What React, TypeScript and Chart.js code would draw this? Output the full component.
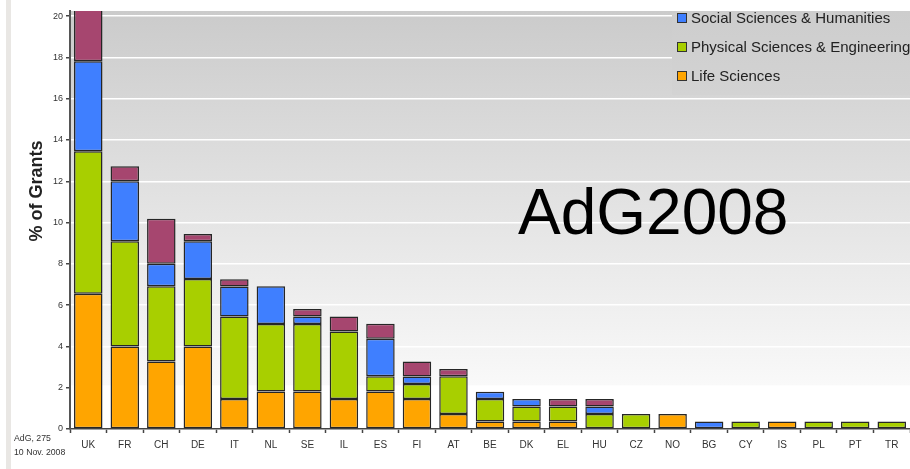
import React, { useEffect, useRef } from "react";
import { Chart, registerables } from "chart.js";

Chart.register(...registerables);

const countries = ["UK", "FR", "CH", "DE", "IT", "NL", "SE", "IL", "ES", "FI", "AT", "BE", "DK", "EL", "HU", "CZ", "NO", "BG", "CY", "IS", "PL", "PT", "TR"];
const lifeSciences = [6.55, 4.0, 3.27, 4.0, 1.45, 1.82, 1.82, 1.45, 1.82, 1.45, 0.73, 0.36, 0.36, 0.36, 0, 0, 0.73, 0, 0, 0.36, 0, 0, 0];
const physicalSciences = [6.91, 5.09, 3.64, 3.27, 4.0, 3.27, 3.27, 3.27, 0.73, 0.73, 1.82, 1.09, 0.73, 0.73, 0.73, 0.73, 0, 0, 0.36, 0, 0.36, 0.36, 0.36];
const socialSciences = [4.36, 2.91, 1.09, 1.82, 1.45, 1.82, 0.36, 0, 1.82, 0.36, 0, 0.36, 0.36, 0, 0.36, 0, 0, 0.36, 0, 0, 0, 0, 0];
const interdisciplinary = [2.91, 0.73, 2.18, 0.36, 0.36, 0, 0.36, 0.73, 0.73, 0.73, 0.36, 0, 0, 0.36, 0.36, 0, 0, 0, 0, 0, 0, 0, 0];
const yTicks = [0, 2, 4, 6, 8, 10, 12, 14, 16, 18, 20];

const FONT = "'Liberation Sans', Arial, sans-serif";

const decorPlugin = {
  id: "decor",
  beforeDraw(chart: any) {
    const { ctx, chartArea } = chart;
    const { left, right, top, bottom } = chartArea;
    const yScale = chart.scales.y;
    const gEnd = yScale.getPixelForValue(2.1);
    const grad = ctx.createLinearGradient(0, top, 0, gEnd);
    grad.addColorStop(0, "#cbcbcb");
    grad.addColorStop(0.5, "#e2e2e2");
    grad.addColorStop(1, "#f9f9f9");
    ctx.save();
    ctx.fillStyle = grad;
    ctx.fillRect(left, top, right - left, gEnd - top);
    ctx.fillStyle = "#ffffff";
    ctx.fillRect(left, gEnd, right - left, bottom - gEnd);
    ctx.restore();
  },
  afterDraw(chart: any) {
    const { ctx } = chart;
    ctx.save();
    const lx = 672;
    const ly = 11;
    const lg = ctx.createLinearGradient(0, ly, 0, 95);
    lg.addColorStop(0, "#cdcdcd");
    lg.addColorStop(1, "#d3d3d3");
    ctx.fillStyle = lg;
    ctx.fillRect(lx, ly, 910 - lx, 95 - ly);
    const items = chart.data.datasets.filter((d: any) => d.inLegend).slice().reverse();
    items.forEach((d: any, i: number) => {
      const cy = 18 + i * 29;
      ctx.fillStyle = d.backgroundColor;
      ctx.fillRect(677, cy - 5, 10, 10);
      ctx.strokeStyle = "#333";
      ctx.lineWidth = 1;
      ctx.strokeRect(677.5, cy - 4.5, 9, 9);
      ctx.fillStyle = "#222";
      ctx.font = `15px ${FONT}`;
      ctx.textBaseline = "middle";
      ctx.textAlign = "left";
      ctx.fillText(d.label, 691, cy + 1);
    });
    ctx.fillStyle = "#000";
    ctx.font = `64px ${FONT}`;
    ctx.textAlign = "left";
    ctx.textBaseline = "alphabetic";
    ctx.fillText("AdG2008", 518, 234);
    ctx.save();
    ctx.translate(42, 191);
    ctx.rotate(-Math.PI / 2);
    ctx.font = `bold 18px ${FONT}`;
    ctx.fillStyle = "#222";
    ctx.textAlign = "center";
    ctx.textBaseline = "alphabetic";
    ctx.fillText("% of Grants", 0, 0);
    ctx.restore();
    ctx.font = `9.5px ${FONT}`;
    ctx.fillStyle = "#333";
    ctx.textAlign = "left";
    ctx.textBaseline = "middle";
    ctx.save();
    ctx.translate(14, 438);
    ctx.scale(0.92, 1);
    ctx.fillText("AdG, 275", 0, 0);
    ctx.restore();
    ctx.save();
    ctx.translate(14, 452);
    ctx.scale(0.92, 1);
    ctx.fillText("10 Nov. 2008", 0, 0);
    ctx.restore();
    ctx.restore();
  },
};

export default function App() {
  const ref = useRef<HTMLCanvasElement | null>(null);

  useEffect(() => {
    if (!ref.current) return;
    const common = {
      borderColor: "#262626",
      borderWidth: 1.5,
      borderSkipped: false,
      barPercentage: 0.78,
      categoryPercentage: 1,
    };
    const chart = new Chart(ref.current, {
      type: "bar",
      data: {
        labels: countries,
        datasets: [
          { label: "Life Sciences", data: lifeSciences, backgroundColor: "#ffa500", inLegend: true, ...common } as any,
          { label: "Physical Sciences & Engineering", data: physicalSciences, backgroundColor: "#a8cf00", inLegend: true, ...common } as any,
          { label: "Social Sciences & Humanities", data: socialSciences, backgroundColor: "#3f7fff", inLegend: true, ...common } as any,
          { label: "Interdisciplinary", data: interdisciplinary, backgroundColor: "#a6466f", inLegend: false, ...common } as any,
        ],
      },
      options: {
        responsive: false,
        animation: false,
        devicePixelRatio: 1,
        layout: { padding: { top: 11, right: 0, left: 0, bottom: 0 } },
        plugins: {
          legend: { display: false },
          tooltip: { enabled: false },
        },
        scales: {
          x: {
            stacked: true,
            afterFit: (s: any) => {
              s.height = 40;
            },
            grid: {
              offset: true,
              drawOnChartArea: false,
              drawTicks: true,
              tickLength: 4,
              tickColor: "#444",
              tickWidth: 1.5,
            },
            border: { color: "#444", width: 1.5 },
            ticks: {
              color: "#333",
              font: { family: FONT, size: 10 },
              padding: 6,
              maxRotation: 0,
              autoSkip: false,
            },
          },
          y: {
            stacked: true,
            min: 0,
            max: 20.25,
            afterFit: (s: any) => {
              s.width = 70;
            },
            afterBuildTicks: (s: any) => {
              s.ticks = yTicks.map((v) => ({ value: v }));
            },
            grid: {
              color: "#ffffff",
              lineWidth: 1.5,
              drawTicks: true,
              tickLength: 4,
              tickColor: "#444",
              tickWidth: 1.5,
            },
            border: { color: "#555", width: 2 },
            ticks: {
              color: "#333",
              font: { family: FONT, size: 9 },
              padding: 3,
            },
          },
        },
      } as any,
      plugins: [decorPlugin],
    });
    return () => chart.destroy();
  }, []);

  return (
    <div style={{ position: "absolute", left: 0, top: 0, width: 910, height: 469, background: "#fff", overflow: "hidden" }}>
      <div style={{ position: "absolute", left: 6, top: 0, width: 5, height: 469, background: "#e9e7e4" }} />
      <canvas ref={ref} width={910} height={469} style={{ position: "absolute", left: 0, top: 0, width: 910, height: 469 }} />
    </div>
  );
}
